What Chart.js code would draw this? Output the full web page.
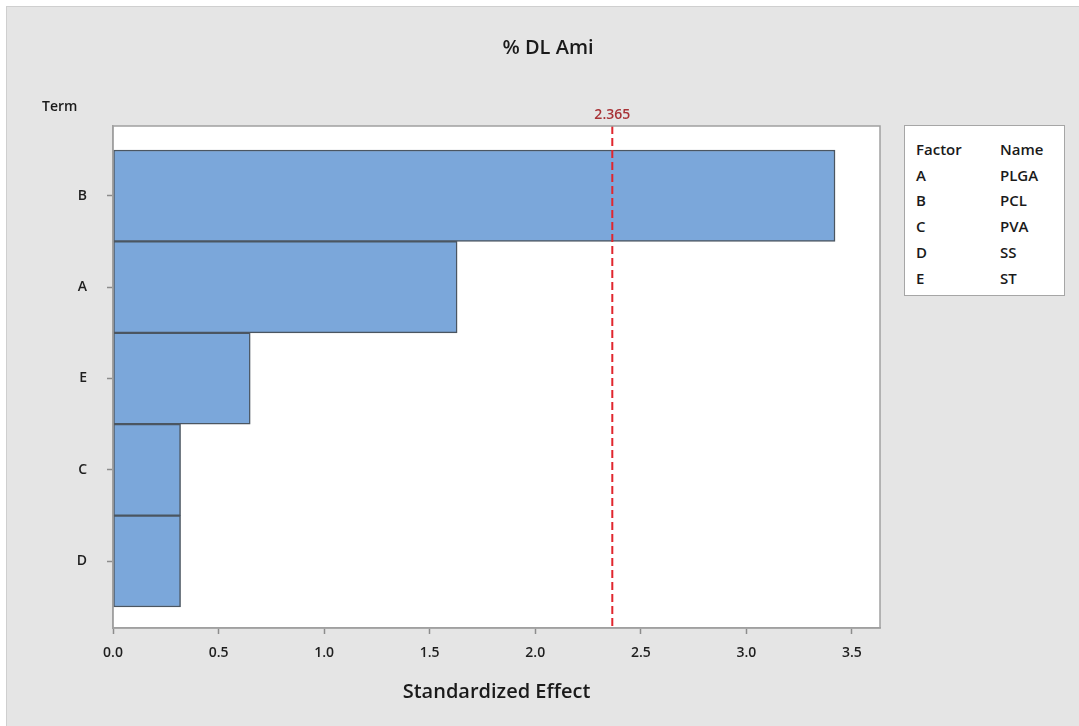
<!DOCTYPE html>
<html>
<head>
<meta charset="utf-8">
<script src="https://cdn.jsdelivr.net/npm/chart.js@4"></script>
<style>
  html, body { margin: 0; padding: 0; background: #ffffff; }
  #wrap { position: absolute; left: 0; top: 0; width: 1079px; height: 726px; }
  #frame { position: absolute; left: 6px; top: 6px; width: 1079px; height: 726px;
           background: #e5e5e5; border: 1px solid #cfcfcf; box-sizing: border-box; }
  canvas { position: absolute; left: 0; top: 0; }
  #legend { position: absolute; left: 904px; top: 125px; width: 161px; height: 171px;
            box-sizing: border-box; background: #fff; border: 1px solid #a6a6a6;
            font-family: "Open Sans", sans-serif; font-size: 15px; font-weight: 600; color: #1a1a1a; }
  #legend table { border-collapse: collapse; margin: 11px 0 0 11px; }
  #legend td { padding: 0; height: 25.7px; line-height: 25.7px; }
  #legend td:first-child { width: 84px; }
</style>
</head>
<body>
<div id="wrap">
  <div id="frame"></div>
  <canvas id="paretoChart" width="1079" height="726"></canvas>
  <div id="legend"><table id="legend-table"></table></div>
</div>
<script>
// Data
const terms = ['B', 'A', 'E', 'C', 'D'];
const effects = [3.42, 1.63, 0.65, 0.32, 0.32];
const xTicks = [0, 0.5, 1.0, 1.5, 2.0, 2.5, 3.0, 3.5];
const refValue = 2.365;
const factorCodes = ['A', 'B', 'C', 'D', 'E'];
const factorNames = ['PLGA', 'PCL', 'PVA', 'SS', 'ST'];

const FONT = '"Open Sans", sans-serif';

// Legend table
const legendTable = document.getElementById('legend-table');
let rows = '<tr><td>Factor</td><td>Name</td></tr>';
factorCodes.forEach((code, i) => {
    rows += `<tr><td>${code}</td><td>${factorNames[i]}</td></tr>`;
});
legendTable.innerHTML = rows;

// Plot frame, reference line and extra text
const decorPlugin = {
    id: 'decor',
    beforeDraw(chart) {
        const { ctx, chartArea } = chart;
        ctx.save();
        ctx.fillStyle = '#ffffff';
        ctx.fillRect(chartArea.left, chartArea.top, chartArea.right - chartArea.left, chartArea.bottom - chartArea.top);
        ctx.restore();
    },
    afterDatasetsDraw(chart) {
        const { ctx, chartArea, scales } = chart;
        const x = scales.x.getPixelForValue(refValue);
        ctx.save();
        // reference line
        ctx.strokeStyle = '#e0262e';
        ctx.lineWidth = 2;
        ctx.setLineDash([8, 4]);
        ctx.beginPath();
        ctx.moveTo(x, chartArea.top);
        ctx.lineTo(x, chartArea.bottom);
        ctx.stroke();
        ctx.setLineDash([]);
        // frame
        ctx.strokeStyle = '#a0a0a0';
        ctx.lineWidth = 1.5;
        ctx.strokeRect(chartArea.left, chartArea.top, chartArea.right - chartArea.left, chartArea.bottom - chartArea.top);
        // ref label
        ctx.fillStyle = '#a83236';
        ctx.font = '600 14px ' + FONT;
        ctx.textAlign = 'center';
        ctx.textBaseline = 'middle';
        ctx.fillText(refValue.toFixed(3), x, 115);
        // title
        ctx.fillStyle = '#1a1a1a';
        ctx.font = '600 20px ' + FONT;
        ctx.fillText('% DL Ami', 548, 48);
        // "Term" label
        ctx.font = '600 14px ' + FONT;
        ctx.textAlign = 'left';
        ctx.fillText('Term', 42, 107);
        ctx.restore();
    }
};

const ctx = document.getElementById('paretoChart').getContext('2d');
new Chart(ctx, {
    type: 'bar',
    data: {
        datasets: [{
            data: effects.map((v, i) => ({ x: v, y: i })),
            backgroundColor: '#7ba7da',
            borderColor: '#4b5661',
            borderWidth: 1.5,
            borderSkipped: false,
            barPercentage: 1,
            categoryPercentage: 1
        }]
    },
    options: {
        indexAxis: 'y',
        responsive: false,
        animation: false,
        layout: { padding: { top: 126, right: 199, bottom: 0, left: 0 } },
        plugins: {
            legend: { display: false },
            tooltip: { enabled: false }
        },
        scales: {
            x: {
                type: 'linear',
                min: 0,
                max: 3.633,
                afterBuildTicks: (scale) => {
                    scale.ticks = xTicks.map(v => ({ value: v }));
                },
                afterFit: (scale) => { scale.height = 98; },
                ticks: {
                    color: '#1f1f1f',
                    font: { family: FONT, size: 14, weight: '600' },
                    padding: 11,
                    maxRotation: 0,
                    callback: (v) => Number(v).toFixed(1)
                },
                grid: { drawOnChartArea: false, tickLength: 6, tickColor: '#8c8c8c', tickWidth: 1.5 },
                border: { display: true, color: '#a0a0a0', width: 1.5 },
                title: {
                    display: true,
                    text: 'Standardized Effect',
                    color: '#1a1a1a',
                    font: { family: FONT, size: 20, weight: '600' },
                    padding: { top: 0, bottom: 22 }
                }
            },
            y: {
                type: 'linear',
                reverse: true,
                offset: false,
                min: -0.763,
                max: 4.73,
                afterBuildTicks: (scale) => {
                    scale.ticks = terms.map((t, i) => ({ value: i }));
                },
                afterFit: (scale) => { scale.width = 113; },
                ticks: {
                    color: '#1f1f1f',
                    font: { family: FONT, size: 14, weight: '600' },
                    padding: 20,
                    callback: (v) => terms[v]
                },
                grid: { offset: false, drawOnChartArea: false, tickLength: 6, tickColor: '#8c8c8c', tickWidth: 1.5 },
                border: { display: true, color: '#a0a0a0', width: 1.5 }
            }
        }
    },
    plugins: [decorPlugin]
});
</script>
</body>
</html>
